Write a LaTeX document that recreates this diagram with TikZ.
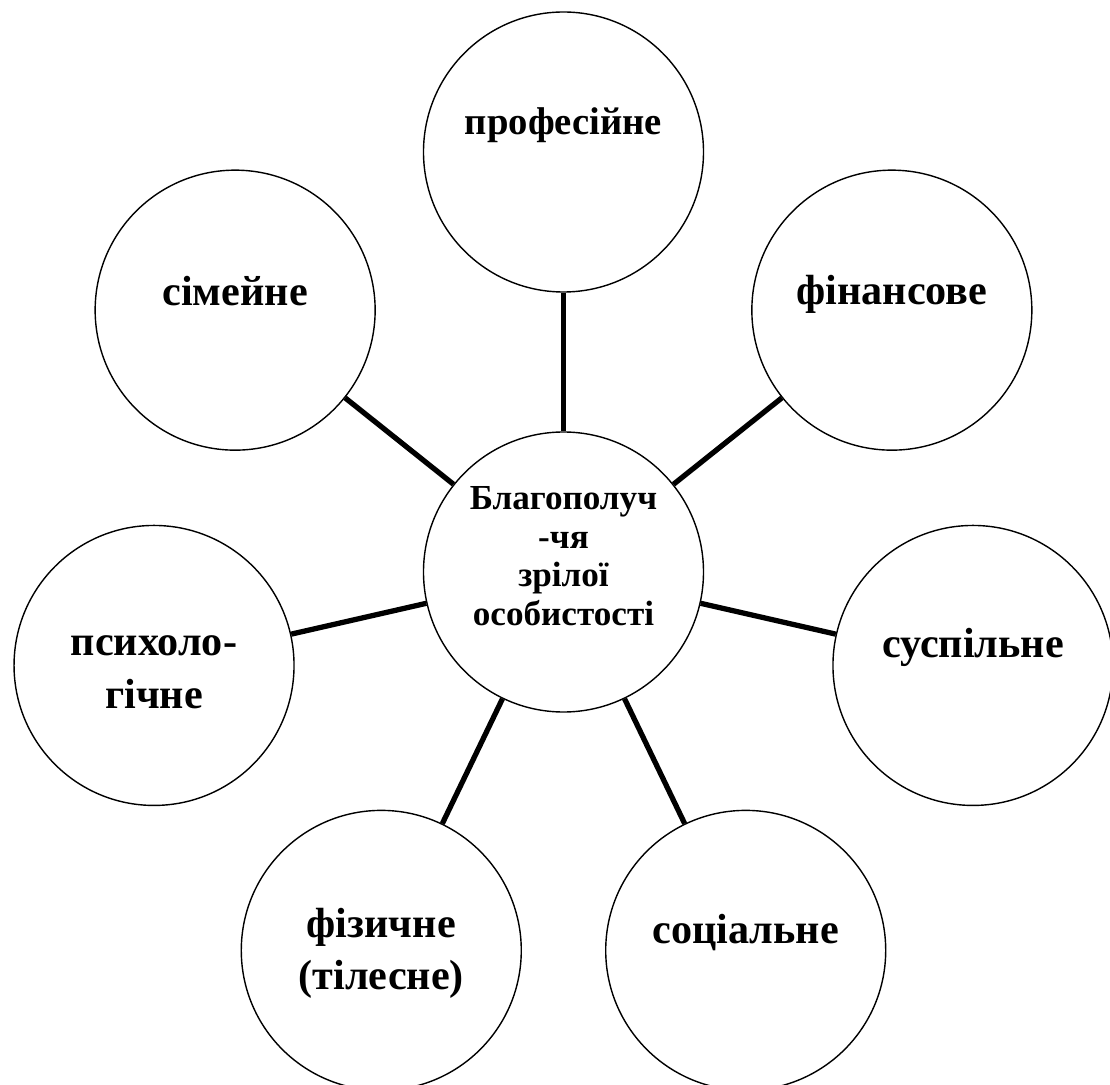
\documentclass[tikz,border=0pt]{standalone}
\usepackage{fontspec}
\setmainfont{Liberation Serif}
\usetikzlibrary{positioning}

\begin{document}
\begin{tikzpicture}[
    sphere/.style={circle, draw=black, line width=0.8pt, minimum size=5.6cm, inner sep=0pt},
    bigtext/.style={font=\bfseries\fontsize{24}{30}\selectfont, align=center, inner sep=0pt},
    hubtext/.style={font=\bfseries\fontsize{20}{22}\selectfont, align=center, inner sep=0pt},
    spoke/.style={line width=3pt}
]
    \useasboundingbox (-11.27,-10.24) rectangle (10.93,11.44);

    \node [sphere] (hub) at (0,0) {};
    \node [sphere] (prof) at (90:8.4) {};
    \node [sphere] (fin) at (38.571:8.4) {};
    \node [sphere] (susp) at (-12.857:8.4) {};
    \node [sphere] (soc) at (-64.286:8.4) {};
    \node [sphere] (fiz) at (-115.714:8.4) {};
    \node [sphere] (psych) at (192.857:8.4) {};
    \node [sphere] (fam) at (141.429:8.4) {};

    \node [hubtext, yshift=0.32cm] (hubtitle) at (hub) {Благополуч\\-чя\\зрілої\\особистості};
    \node [bigtext, font=\bfseries\fontsize{22}{30}\selectfont, yshift=0.53cm] (proftitle) at (prof) {професійне};
    \node [bigtext, yshift=0.32cm] (fintitle) at (fin) {фінансове};
    \node [bigtext, yshift=0.36cm] (susptitle) at (susp) {суспільне};
    \node [bigtext, yshift=0.36cm] (soctitle) at (soc) {соціальне};
    \node [bigtext, yshift=-0.06cm] (fiztitle) at (fiz) {фізичне\\(тілесне)};
    \node [bigtext, yshift=-0.14cm] (psychtitle) at (psych) {психоло-\\гічне};
    \node [bigtext, yshift=0.39cm] (famtitle) at (fam) {сімейне};

    \draw [spoke] (hub) -- (prof);
    \draw [spoke] (hub) -- (fin);
    \draw [spoke] (hub) -- (susp);
    \draw [spoke] (hub) -- (soc);
    \draw [spoke] (hub) -- (fiz);
    \draw [spoke] (hub) -- (psych);
    \draw [spoke] (hub) -- (fam);
\end{tikzpicture}
\end{document}
